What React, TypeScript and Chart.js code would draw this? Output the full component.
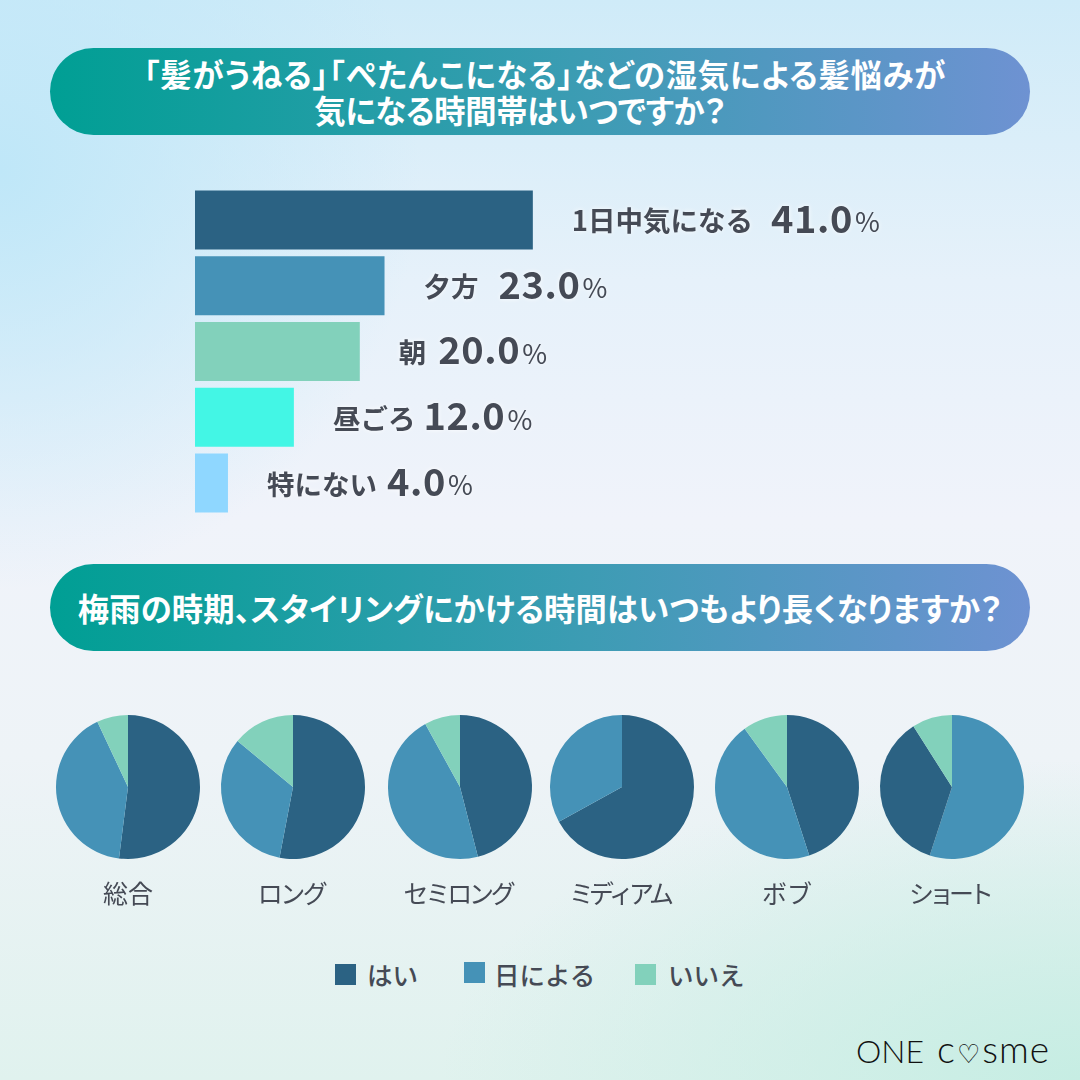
import React, { useEffect, useRef } from "react";
import { Chart, registerables } from "chart.js";

Chart.register(...registerables);

const FONT = "'Noto Sans CJK JP', 'Noto Sans', sans-serif";

const titleOne = ["「髪がうねる」「ぺたんこになる」などの湿気による髪悩みが", "気になる時間帯はいつですか？"];
const titleOneSpacing = [0.8, -0.3];
const titleOneShift = [5, -20];
const titleTwo = ["梅雨の時期、スタイリングにかける時間はいつもより長くなりますか？"];
const titleTwoSpacing = [0.2];
const titleTwoShift = [0];

const barLabels = ["1日中気になる", "夕方", "朝", "昼ごろ", "特にない"];
const barValues = [41.0, 23.0, 20.0, 12.0, 4.0];
const barColors = ["#2b6283", "#4592b7", "#82d1bb", "#43f6e5", "#8fd7ff"];
const barLabelGaps = [18, 20, 12, 8, 10];

const pieNames = ["総合", "ロング", "セミロング", "ミディアム", "ボブ", "ショート"];
const pieNameSpacing = [0, -2.5, -3.2, -5, 0, -5];
const pieCentres = [128, 293, 459.5, 622, 786.5, 952];
const answers = ["はい", "日による", "いいえ"];
const answerColors = ["#2b6283", "#4592b7", "#82d1bb"];
const yesValues = [52, 53, 46, 67, 45, 36];
const dependsValues = [41, 33, 46, 33, 45, 55];
const noValues = [7, 14, 8, 0, 10, 9];
// The last pie draws 日による first in the reference.
const sliceOrders = [[0, 1, 2], [0, 1, 2], [0, 1, 2], [0, 1, 2], [0, 1, 2], [1, 0, 2]];

const legendSwatchX = [335, 464, 635];
const legendSwatchY = [964, 962, 964];
const legendTextX = [367, 494, 668];

const barLabelPlugin = {
  id: "barText",
  afterDatasetsDraw(chart: any) {
    const ctx = chart.ctx;
    const meta = chart.getDatasetMeta(0);
    ctx.save();
    ctx.textBaseline = "middle";
    ctx.textAlign = "left";
    ctx.fillStyle = "#454a55";
    ctx.shadowColor = "rgba(255,255,255,0.9)";
    ctx.shadowBlur = 5;
    meta.data.forEach((bar: any, i: number) => {
      const y = bar.y;
      let x = bar.x + 39;
      ctx.font = `700 27.5px ${FONT}`;
      ctx.letterSpacing = "0px";
      ctx.fillText(barLabels[i], x, y + 1);
      x += ctx.measureText(barLabels[i]).width + barLabelGaps[i];
      ctx.font = `700 38px ${FONT}`;
      ctx.letterSpacing = "0.6px";
      const value = barValues[i].toFixed(1);
      ctx.fillText(value, x, y - 1.5);
      x += ctx.measureText(value).width + 2;
      ctx.font = `400 27px ${FONT}`;
      ctx.letterSpacing = "0px";
      ctx.fillText("%", x, y + 2);
    });
    ctx.restore();
  },
};

function BarPanel() {
  const ref = useRef<HTMLCanvasElement>(null);
  useEffect(() => {
    const chart = new Chart(ref.current!, {
      type: "bar",
      data: {
        labels: barLabels,
        datasets: [{ data: barValues, backgroundColor: barColors, barPercentage: 0.897, categoryPercentage: 1 }],
      },
      options: {
        indexAxis: "y",
        animation: false,
        responsive: false,
        maintainAspectRatio: false,
        plugins: { legend: { display: false }, tooltip: { enabled: false } },
        scales: {
          x: { display: false, min: 0, max: 100 },
          y: { display: false },
        },
      } as any,
      plugins: [barLabelPlugin],
    });
    return () => chart.destroy();
  }, []);
  return <canvas ref={ref} width={824} height={329} style={{ position: "absolute", left: 195, top: 187, width: 824, height: 329 }} />;
}

function PiePanel({ index }: { index: number }) {
  const ref = useRef<HTMLCanvasElement>(null);
  useEffect(() => {
    const row = [yesValues[index], dependsValues[index], noValues[index]];
    const order = sliceOrders[index];
    const spacing = pieNameSpacing[index];
    const nudge = spacing * 0.6;
    const chart = new Chart(ref.current!, {
      type: "pie",
      data: {
        labels: order.map((k) => answers[k]),
        datasets: [{
          data: order.map((k) => row[k]),
          backgroundColor: order.map((k) => answerColors[k]),
          borderWidth: 0,
        }],
      },
      options: {
        animation: false,
        responsive: false,
        maintainAspectRatio: false,
        plugins: {
          legend: { display: false },
          tooltip: { enabled: false },
          title: {
            display: true,
            position: "bottom",
            text: pieNames[index],
            color: "#454a55",
            font: { family: FONT, size: 25, weight: "400", lineHeight: 1.2 },
            padding: { top: 19, bottom: 3 },
          },
        },
      } as any,
      plugins: [
        {
          id: "tightText",
          beforeDraw(c: any) {
            c.ctx.letterSpacing = `${spacing}px`;
            c.ctx.translate(nudge, 0);
          },
          beforeDatasetsDraw(c: any) {
            c.ctx.translate(-nudge, 0);
          },
        },
      ],
    });
    return () => chart.destroy();
  }, [index]);
  return (
    <canvas
      ref={ref}
      width={164}
      height={196}
      style={{ position: "absolute", left: pieCentres[index] - 82, top: 715, width: 164, height: 196 }}
    />
  );
}

function Pill({ top, lines, spacing, shift }: { top: number; lines: string[]; spacing: number[]; shift: number[] }) {
  return (
    <div
      style={{
        position: "absolute",
        left: 50,
        top,
        width: 980,
        height: 87,
        borderRadius: 44,
        background: "linear-gradient(90deg, #009f94 0%, #3d9cb4 55%, #6e92d2 100%)",
        color: "#fff",
        fontFamily: FONT,
        fontWeight: 700,
        fontSize: 31.3,
        lineHeight: "36px",
        fontFeatureSettings: "'palt'",
        textAlign: "center",
        display: "flex",
        flexDirection: "column",
        justifyContent: "center",
        whiteSpace: "nowrap",
      }}
    >
      {lines.map((l, i) => (
        <div key={l} style={{ letterSpacing: spacing[i], transform: `translateX(${shift[i]}px)` }}>{l}</div>
      ))}
    </div>
  );
}

export default function App() {
  return (
    <div
      style={{
        position: "absolute",
        left: 0,
        top: 0,
        width: 1080,
        height: 1080,
        overflow: "hidden",
        background:
          "radial-gradient(ellipse 420px 420px at 0px 170px, #bfe7f8 0%, rgba(191,231,248,0) 100%), radial-gradient(ellipse 640px 320px at 1080px 1080px, #c6ede3 0%, rgba(198,237,227,0) 100%), linear-gradient(180deg, #cfebf8 0%, #e6f1fa 26%, #f0f3fa 48%, #eef3f7 70%, #e0f2ee 100%)",
      }}
    >
      <Pill top={48} lines={titleOne} spacing={titleOneSpacing} shift={titleOneShift} />
      <BarPanel />
      <Pill top={564} lines={titleTwo} spacing={titleTwoSpacing} shift={titleTwoShift} />
      {pieNames.map((_, i) => (
        <PiePanel key={i} index={i} />
      ))}
      {answers.map((a, i) => (
        <React.Fragment key={a}>
          <div
            style={{
              position: "absolute",
              left: legendSwatchX[i],
              top: legendSwatchY[i],
              width: 21,
              height: 21,
              background: answerColors[i],
            }}
          />
          <div
            style={{
              position: "absolute",
              left: legendTextX[i],
              top: 956,
              height: 36,
              lineHeight: "36px",
              fontFamily: FONT,
              fontWeight: 500,
              fontSize: 25.5,
              color: "#454a55",
              whiteSpace: "nowrap",
            }}
          >
            {a}
          </div>
        </React.Fragment>
      ))}
      <div
        style={{
          position: "absolute",
          left: 856,
          top: 1025,
          lineHeight: "46px",
          fontFamily: "Lato, sans-serif",
          fontWeight: 300,
          fontSize: 32,
          color: "#111",
          whiteSpace: "nowrap",
        }}
      >
        ONE<span style={{ marginLeft: 13, fontSize: 38 }}>c</span>
        <span style={{ fontFamily: "'DejaVu Sans'", fontWeight: 700, fontSize: 26, margin: "0 2px 0 2px" }}>♡</span>
        <span style={{ fontSize: 37, letterSpacing: 1 }}>sme</span>
      </div>
    </div>
  );
}
